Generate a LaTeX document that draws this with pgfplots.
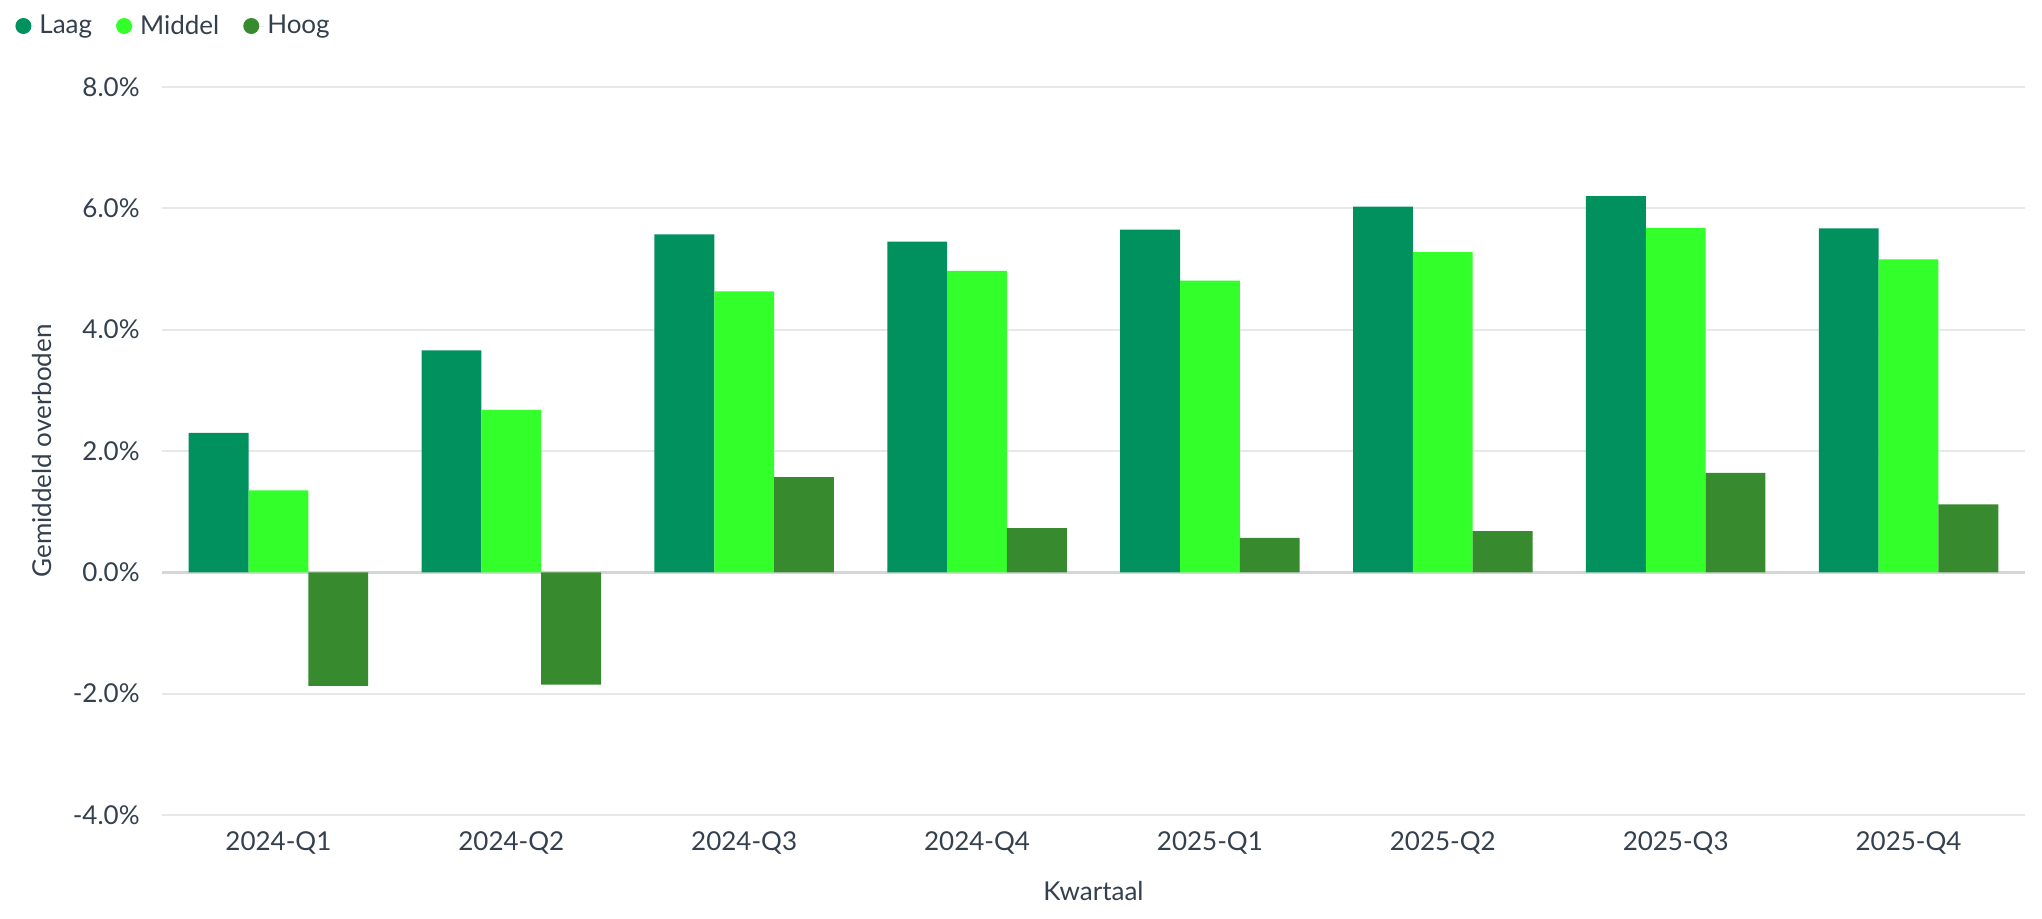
\documentclass[border=0pt]{standalone}
\usepackage{fontspec}
\setmainfont{Lato}
\usepackage{pgfplots}
\pgfplotsset{compat=1.18}
\definecolor{laag}{HTML}{00915F}
\definecolor{middel}{HTML}{33FF2A}
\definecolor{hoog}{HTML}{388A2E}
\definecolor{txt}{HTML}{34404D}
\definecolor{grd}{HTML}{E8E8E8}
\definecolor{zeroc}{HTML}{D3D7D7}
\newcommand{\fs}{\fontsize{13}{15}\selectfont}
\begin{document}
\begin{tikzpicture}
\useasboundingbox (-81pt,-51.5pt) rectangle (940pt,407.5pt);
\begin{axis}[
  at={(0,0)}, anchor=south west,
  scale only axis, width=931.5pt, height=364pt,
  ybar=0pt, bar width=29.9pt,
  xmin=-0.5, xmax=7.5, ymin=-4, ymax=8,
  xtick={0,1,2,3,4,5,6,7},
  xticklabels={2024-Q1,2024-Q2,2024-Q3,2024-Q4,2025-Q1,2025-Q2,2025-Q3,2025-Q4},
  ytick={-4,-2,0,2,4,6,8},
  yticklabels={-4.0\%,-2.0\%,0.0\%,2.0\%,4.0\%,6.0\%,8.0\%},
  axis line style={draw=none},
  major tick length=0pt,
  ymajorgrids, grid style={grd, line width=1pt},
  extra y ticks={0}, extra y tick labels={},
  extra y tick style={grid style={zeroc, line width=1.2pt}},
  tick label style={font=\fs, text=txt},
  yticklabel style={inner sep=0pt, anchor=east, xshift=-11pt},
  xticklabel style={inner sep=0pt, anchor=north, yshift=-8pt},
  xlabel={Kwartaal}, ylabel={Gemiddeld overboden},
  label style={font=\fs, text=txt},
  xlabel style={at={(axis description cs:0.5,-0.1044)}, anchor=center},
  ylabel style={at={(axis description cs:-0.0644,0.5)}, anchor=center, rotate=0},
  legend columns=-1,
  legend style={at={(axis description cs:-0.0789,1.0838)}, anchor=west,
    draw=none, fill=none, inner sep=0pt, font=\fs, text=txt,
    /tikz/every even column/.append style={column sep=10pt}},
]
\addplot[fill=laag, draw=none, legend image code/.code={\path (0pt,0pt) -- (10pt,0pt);\fill[laag] (4pt,0pt) circle (4pt);}]
  coordinates {(0,2.30) (1,3.66) (2,5.57) (3,5.45) (4,5.65) (5,6.03) (6,6.20) (7,5.67)};
\addlegendentry{Laag}
\addplot[fill=middel, draw=none, legend image code/.code={\path (0pt,0pt) -- (10pt,0pt);\fill[middel] (4pt,0pt) circle (4pt);}]
  coordinates {(0,1.35) (1,2.68) (2,4.63) (3,4.97) (4,4.81) (5,5.28) (6,5.68) (7,5.16)};
\addlegendentry{Middel}
\addplot[fill=hoog, draw=none, legend image code/.code={\path (0pt,0pt) -- (10pt,0pt);\fill[hoog] (4pt,0pt) circle (4pt);}]
  coordinates {(0,-1.87) (1,-1.85) (2,1.57) (3,0.73) (4,0.57) (5,0.68) (6,1.64) (7,1.12)};
\addlegendentry{Hoog}
\end{axis}
\end{tikzpicture}
\end{document}
